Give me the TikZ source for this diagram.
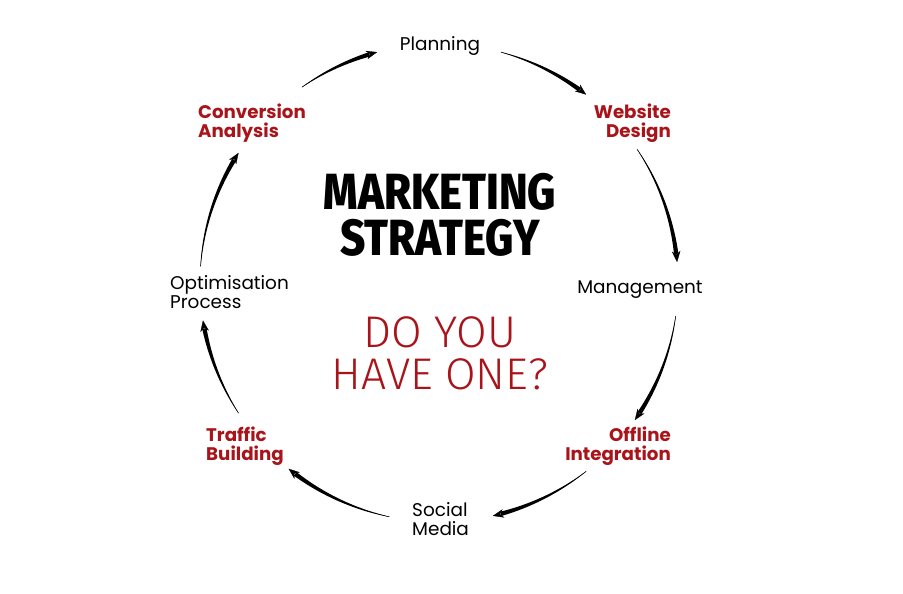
\documentclass[tikz,border=0pt]{standalone}
\usepackage{fontspec}
\setmainfont{Poppins}
\IfFontExistsTF{Fira Sans Light}{\newfontfamily\thinfont{Fira Sans Light}}{%
  \IfFontExistsTF{Lato Light}{\newfontfamily\thinfont{Lato Light}}{\newfontfamily\thinfont{Lato}}}
\IfFontExistsTF{Fira Sans ExtraBold}{\newfontfamily\heavyfont{Fira Sans ExtraBold}}{%
  \IfFontExistsTF{Lato Black}{\newfontfamily\heavyfont{Lato Black}}{\newfontfamily\heavyfont[FakeBold=2]{Fira Sans Bold}}}
\usetikzlibrary{arrows.meta}
\definecolor{stagered}{RGB}{168,20,26}
\newcommand{\squeeze}[1]{\scalebox{0.86}[1]{#1}}

\tikzset{
  stage/.style={font=\fontsize{18.5}{19.5}\selectfont, align=left, inner sep=0pt},
  keystage/.style={stage, font=\fontsize{18.3}{19.5}\selectfont\bfseries, text=stagered},
  headline/.style={font=\heavyfont\fontsize{51}{46}\selectfont, inner sep=0pt},
}

\begin{document}
\begin{tikzpicture}[x=1bp, y=1bp]
  \useasboundingbox (0,0) rectangle (903,594);
  % stages round the ring
  \node[stage, anchor=base] (plan) at (440,543) {Planning};
  \node[keystage, anchor=east, align=right] (web) at (671,471) {Website\\Design};
  \node[stage] (mgmt) at (640,304) {Management};
  \node[keystage, anchor=east, align=right] (offline) at (671,148) {Offline\\Integration};
  \node[stage, anchor=west] (social) at (412,75) {Social\\Media};
  \node[keystage, anchor=west] (traffic) at (206,148) {Traffic\\Building};
  \node[stage, anchor=west] (optim) at (170,302) {Optimisation\\Process};
  \node[keystage, anchor=west] (conv) at (198,471) {Conversion\\Analysis};
  % centre texts
  \node[headline] (title) at (440,402) {\squeeze{MARKETING}};
  \node[headline] (subtitle) at (440,356) {\squeeze{STRATEGY}};
  \node[font=\thinfont\fontsize{44.5}{42}\selectfont, align=center, text=stagered] (question) at (440,241)
        {DO YOU\\HAVE ONE?};
  % tapered arrows
  \begin{scope}[shift={(439,311)}]
    \foreach \a/\b in {125/105, 75/52, 34/5, -8/-35, -52/-77, -102/-129, -147/-171, 176/147} {
      \pgfmathsetmacro{\e}{\b+2}
      \fill plot[domain=\a:\e, samples=30] ({\x}:{239-0.2-2*(\x-\a)/(\e-\a)})
        -- plot[domain=\e:\a, samples=30] ({\x}:{239+0.2+2*(\x-\a)/(\e-\a)}) -- cycle;
      \draw[line width=0.3bp, -{Stealth[length=11bp, width=8.5bp]}]
        (\a:239) arc[start angle=\a, end angle=\b, radius=239bp];
    }
  \end{scope}
\end{tikzpicture}
\end{document}
